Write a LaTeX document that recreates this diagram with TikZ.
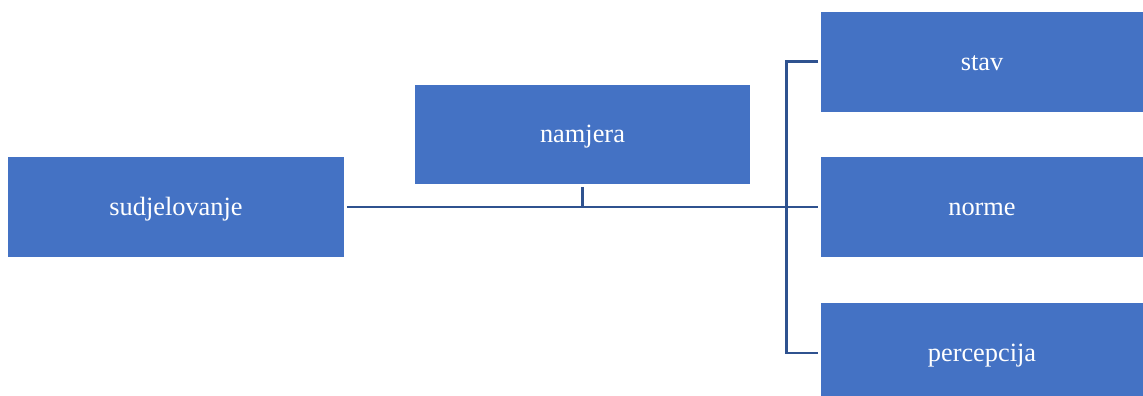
\documentclass[tikz,border=0pt]{standalone}
\usepackage{fontspec}
\setmainfont{Liberation Serif}
\definecolor{boxblue}{RGB}{68,114,196}
\definecolor{lineblue}{RGB}{47,82,143}
\begin{document}
\begin{tikzpicture}

    \tikzset{nodestyle/.style={fill=boxblue,text=white,minimum width=6.7cm,minimum height=2cm,inner sep=0pt,text height=9.4pt,text depth=0pt,font=\fontsize{15}{18}\selectfont}}
    \tikzset{linestyle/.style={draw=lineblue,line width=1.7pt}}
    \useasboundingbox (0,0) rectangle (22.86,-7.92);

    \node[nodestyle,minimum width=6.72cm] (sud) at ( 3.52, -4.14) {sudjelovanje};
    \node[nodestyle,minimum height=1.98cm] (nam) at ( 11.65, -2.69) {namjera};

    \node[nodestyle,minimum width=6.44cm] (stav) at ( 19.64, -1.235) {stav};
    \node[nodestyle,minimum width=6.44cm] (norme) at ( 19.64, -4.14) {norme};
    \node[nodestyle,minimum width=6.44cm] (perc) at ( 19.64, -7.06) {percepcija};

    \coordinate (mid) at (11.65, -4.14);
    \coordinate (brk) at (15.72, -4.14);

    \begin{scope}[every path/.style={linestyle}]
        \draw ([xshift=1.5pt]sud.east) -- ([xshift=-1.5pt]norme.west);
        \draw ([yshift=-1.5pt]nam.south) -- (mid);
        \draw ([xshift=-1.5pt]stav.west) -| (brk) |- ([xshift=-1.5pt]perc.west);
    \end{scope}

\end{tikzpicture}
\end{document}
